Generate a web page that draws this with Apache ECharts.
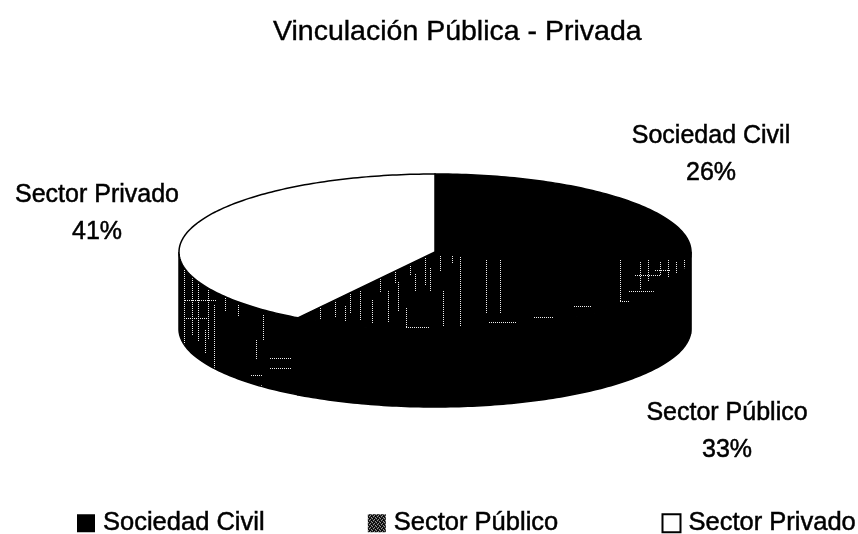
<!DOCTYPE html>
<html><head><meta charset="utf-8">
<style>html,body{margin:0;padding:0;background:#fff}#c{width:858px;height:534px}</style>
<script src="https://cdn.jsdelivr.net/npm/echarts@6/dist/echarts.min.js"></script>
</head><body><div id="c"></div>
<script>
const titleText = 'Vinculación Pública - Privada';
const categories = ['Sociedad Civil', 'Sector Público', 'Sector Privado'];
const shares = [26, 33, 41];

// layout only
const pie = { cx: 435, cy: 252, rx: 256, ry: 78, depth: 77 };
const labelAnchors = [[711, 154.5], [727, 431.5], [97, 213.5]];
const font = '"Liberation Sans", Arial, sans-serif';

// dotted texture runs for the speckled fill (x0, y0, x1, y1 on the page)
const speckleRuns = [
  [460,257,460,325],[486,260,486,312],[500,260,500,312],[443,291,443,325],
  [406,308,406,327],[406,327,429,327],[388,291,388,322],[415,274,415,291],
  [360,291,360,319],[345,306,345,320],[372,300,372,322],[398,282,398,310],
  [425,258,425,285],[410,262,410,275],[395,268,395,282],[380,275,380,292],
  [350,292,350,312],[335,300,335,316],[320,308,320,318],[430,268,430,290],
  [440,256,440,270],[452,256,452,262],
  [489,322,515,322],[534,317,553,317],[574,306,591,306],
  [620,260,620,301],[620,301,629,301],[629,291,657,291],
  [640,262,640,288],[648,260,648,280],[660,262,660,275],[668,260,668,276],
  [676,262,676,272],[684,260,684,268],[655,270,670,270],[635,275,660,275],
  [184,270,184,345],[192,272,192,335],[198,280,198,340],[208,278,208,338],
  [214,305,214,368],[205,330,205,352],[263,315,263,340],[256,340,256,358],
  [270,358,291,358],[270,368,291,368],[251,375,262,375],[251,385,262,385],
  [225,298,225,310],[238,305,238,315],[185,300,215,300],[186,318,206,318]
];

function tile(w, h, paint) {
  const c = document.createElement('canvas');
  c.width = w; c.height = h;
  paint(c.getContext('2d'));
  return { image: c, repeat: 'repeat' };
}
const sparse = tile(858, 534, g => {
  g.fillStyle = '#000'; g.fillRect(0, 0, 858, 534);
  g.fillStyle = '#eee';
  speckleRuns.forEach(r => {
    const n = Math.max(Math.abs(r[2] - r[0]), Math.abs(r[3] - r[1])) / 2;
    for (let k = 0; k <= n; k++) {
      g.fillRect(Math.round(r[0] + (r[2] - r[0]) * k / n), Math.round(r[1] + (r[3] - r[1]) * k / n), 1, 1);
    }
  });
});
const dense = tile(4, 4, g => {
  g.fillStyle = '#000'; g.fillRect(0, 0, 4, 4);
  g.fillStyle = '#ddd';
  [[0, 0], [2, 1], [1, 2], [3, 3]].forEach(d => g.fillRect(d[0], d[1], 1, 1));
});

const topFills = ['#000', sparse, '#fff'];
const wallFills = ['#000', '#000', sparse];
const legendItems = [
  { color: '#000', borderColor: '#000' },
  { color: dense, borderColor: '#000' },
  { color: '#fff', borderColor: '#000', borderWidth: 2 }
];

const total = shares.reduce((a, b) => a + b, 0);
const startOf = i => shares.slice(0, i).reduce((a, b) => a + b, 0) / total * 2 * Math.PI;
const rim = (t, dy) => [pie.cx + pie.rx * Math.sin(t), pie.cy - pie.ry * Math.cos(t) + (dy || 0)];

function sliceRender(i) {
  return function (params, api) {
    const a0 = startOf(i);
    const a1 = a0 + api.value(0) / total * 2 * Math.PI;
    const step = Math.PI / 180;
    const arc = [];
    for (let t = a0; t < a1; t += step) arc.push(rim(t));
    arc.push(rim(a1));
    const children = [];
    const w0 = Math.max(a0, Math.PI / 2), w1 = Math.min(a1, 3 * Math.PI / 2);
    if (w1 > w0) {
      const up = [], down = [];
      for (let t = w0; t < w1; t += step) { up.push(rim(t)); down.unshift(rim(t, pie.depth)); }
      up.push(rim(w1)); down.unshift(rim(w1, pie.depth));
      children.push({ type: 'polygon', shape: { points: up.concat(down) },
        style: { fill: wallFills[i], stroke: '#000', lineWidth: 1.5 } });
    }
    children.push({ type: 'polygon', shape: { points: arc.concat([[pie.cx, pie.cy]]) },
      style: { fill: topFills[i], stroke: '#000', lineWidth: 1.5 } });
    children.push({ type: 'text', style: {
      x: labelAnchors[i][0], y: labelAnchors[i][1],
      text: categories[i] + '\n' + api.value(0) + '%',
      fill: '#000', stroke: '#000', lineWidth: 0.5, font: '25px ' + font, lineHeight: 37, align: 'center', verticalAlign: 'middle' } });
    return { type: 'group', children };
  };
}

const chart = echarts.init(document.getElementById('c'), null, { renderer: 'canvas' });
chart.setOption({
  animation: false,
  backgroundColor: '#fff',
  title: { text: titleText, left: 268, top: 13, textStyle: { fontFamily: font, fontWeight: 'normal', fontSize: 28.5, color: '#000', textBorderColor: '#000', textBorderWidth: 0.4 } },
  legend: {
    left: 77, top: 510, padding: 0, width: 781, itemWidth: 18, itemHeight: 18, itemGap: 103, icon: 'rect',
    textStyle: { fontFamily: font, fontSize: 25.5, color: '#000', textBorderColor: '#000', textBorderWidth: 0.5, padding: [0, 0, 0, 3] },
    data: categories.map((n, i) => ({ name: n, itemStyle: legendItems[i] }))
  },
  series: categories.map((n, i) => ({
    type: 'custom', name: n, coordinateSystem: 'none', silent: true,
    itemStyle: legendItems[i],
    data: [[shares[i]]],
    renderItem: sliceRender(i)
  }))
});
</script></body></html>
